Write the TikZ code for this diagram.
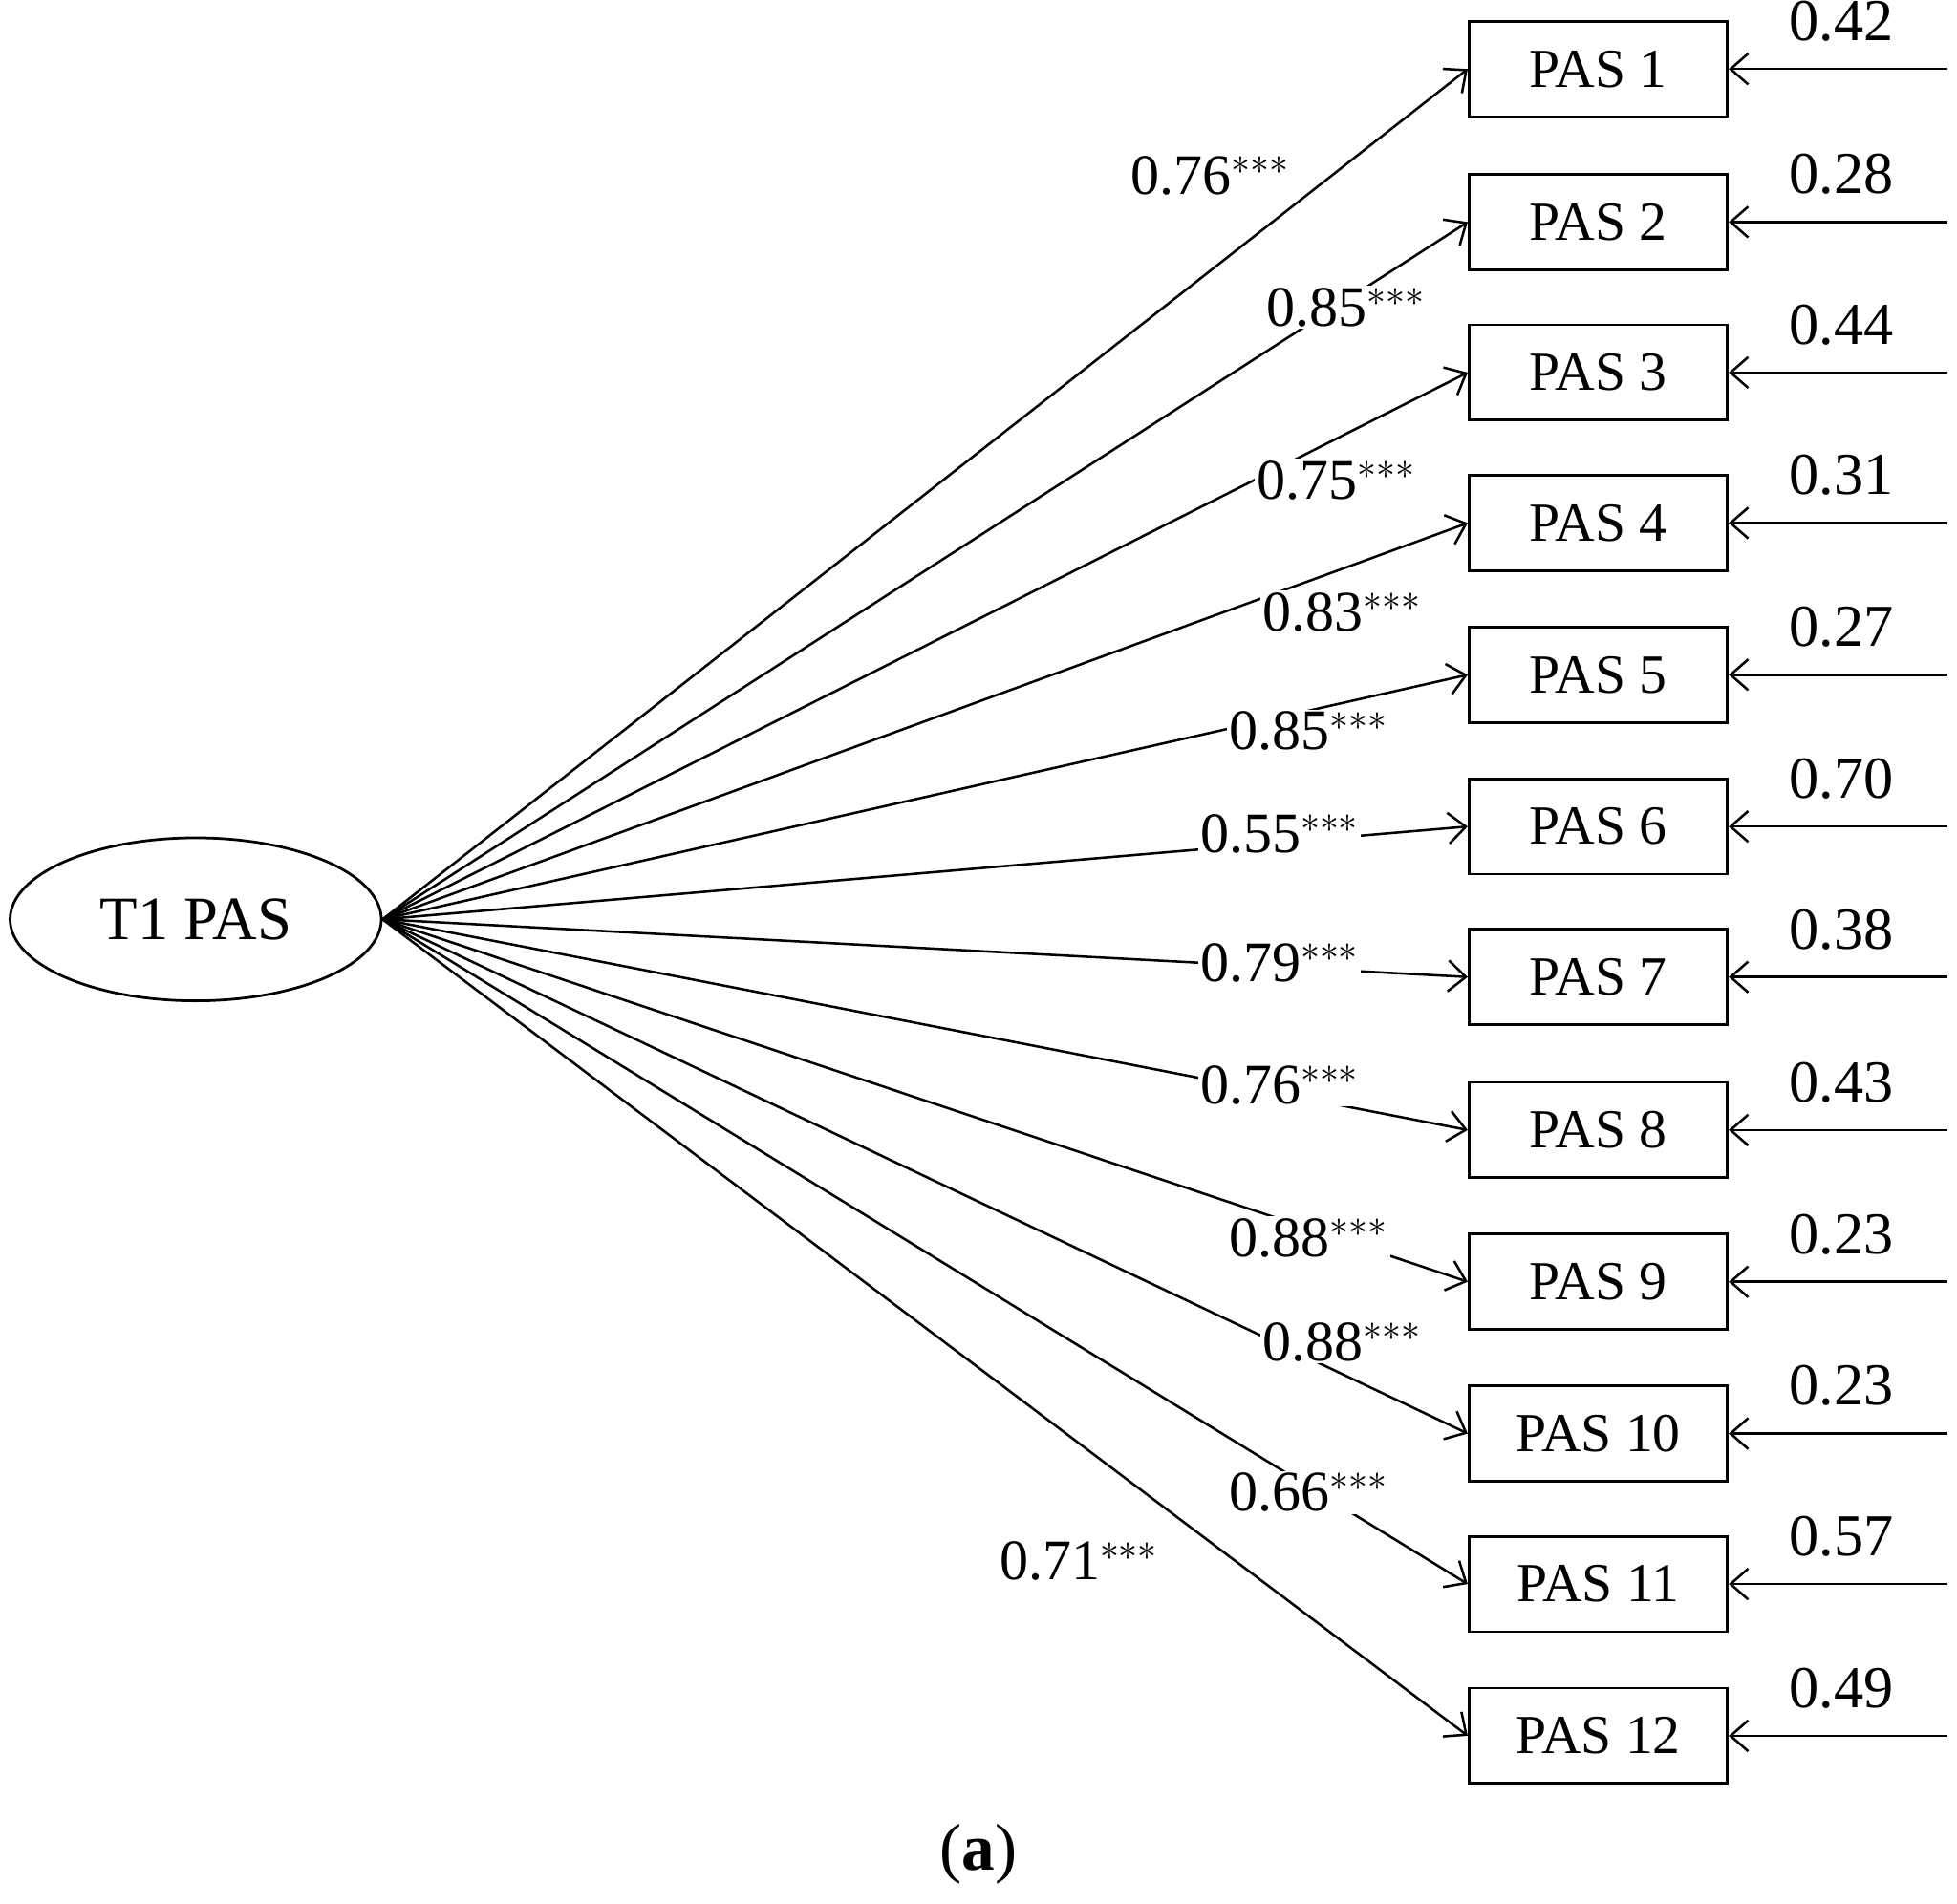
\documentclass[tikz,border=0pt]{standalone}
\usepackage{fontspec}
\setmainfont{Liberation Serif}
\usetikzlibrary{arrows.meta,shapes.geometric}
\begin{document}
\begin{tikzpicture}[x=0.02cm,y=-0.02cm,
  ind/.style={draw,line width=1.2pt,minimum width=4.12cm,minimum height=1.52cm,font=\fontsize{25}{28}\selectfont,inner sep=0pt},
  lat/.style={draw,ellipse,line width=1.2pt,minimum width=5.92cm,minimum height=2.6cm,font=\fontsize{28}{32}\selectfont,inner sep=0pt},
  lab/.style={fill=white,inner sep=1pt,font=\fontsize{26}{30}\selectfont},
  err/.style={font=\fontsize{27}{30}\selectfont},
  arr/.style={line width=1.1pt,-{Straight Barb[length=8pt,width=14pt]}}]
\useasboundingbox (0,0) rectangle (1560,1518);
\node[lat] (L) at (156,733) {T1 PAS};
\foreach \i/\y/\e/\lx/\ly/\v in {1/55/0.42/965/140/0.76, 2/177/0.28/1073/245/0.85, 3/297/0.44/1065/383/0.75, 4/417/0.31/1070/488/0.83, 5/538/0.27/1043/583/0.85, 6/659/0.70/1020/665/0.55, 7/779/0.38/1020/768/0.79, 8/901/0.43/1020/865/0.76, 9/1022/0.23/1043/987/0.88, 10/1143/0.23/1070/1070/0.88, 11/1263/0.57/1043/1190/0.66, 12/1384/0.49/860/1245/0.71}{
  \node[ind] (P\i) at (1274,\y) {PAS \i};
  \coordinate (E\i) at (1552,\y);
  \draw[arr] (L.east) -- (P\i.west);
  \draw[arr] (E\i) -- (P\i.east);
  \node[err] at (1468,\y-38) {\e};
  \node[lab] at (\lx,\ly) {\v$^{\mathsf{***}}$};
}
\node[font=\fontsize{30}{34}\selectfont] at (780,1478) {(\textbf{a})};
\end{tikzpicture}
\end{document}
